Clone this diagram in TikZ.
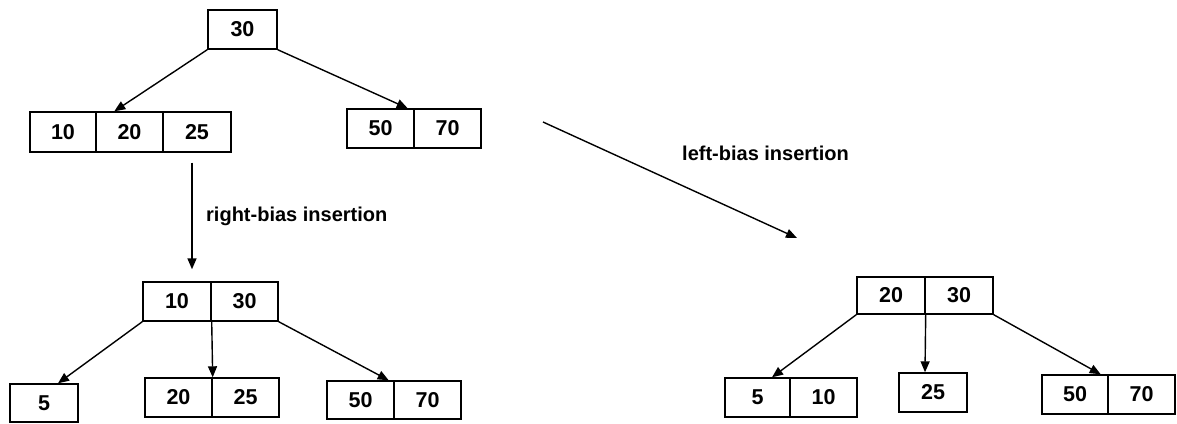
\documentclass[tikz,border=0pt]{standalone}
\usepackage{fontspec}
\setmainfont{Liberation Sans}
\usetikzlibrary{arrows.meta,calc}
\begin{document}
\begin{tikzpicture}[x=1pt,y=-1pt,
  cell/.style={draw,line width=1.4pt,fill=white,inner sep=0pt,font=\fontsize{21.5}{24}\selectfont\bfseries},
  link/.style={line width=1.4pt,-{Triangle[length=11pt,width=9pt]}},
  lbl/.style={font=\fontsize{20}{24}\selectfont\bfseries,anchor=west,inner sep=0pt}]
\useasboundingbox (0,0) rectangle (1177,423);
% top tree
\node[cell,minimum width=69pt,minimum height=39pt] (r30) at (242.5,29.5) {30};
\node[cell,minimum width=66pt,minimum height=40pt] (a10) at (63,132) {10};
\node[cell,minimum width=67pt,minimum height=40pt] (a20) at (129.5,132) {20};
\node[cell,minimum width=68pt,minimum height=40pt] (a25) at (197,132) {25};
\node[cell,minimum width=67pt,minimum height=39pt] (a50) at (380.5,128.5) {50};
\node[cell,minimum width=67pt,minimum height=39pt] (a70) at (447.5,128.5) {70};
\draw[link] (r30.south west) -- ([xshift=19pt]a20.north west);
\draw[link] (r30.south east) -- ([xshift=-7pt]a50.north east);
% right-bias result
\node[cell,minimum width=68pt,minimum height=39pt] (b10) at (177,301.5) {10};
\node[cell,minimum width=67pt,minimum height=39pt] (b30) at (244.5,301.5) {30};
\node[cell,minimum width=68pt,minimum height=38pt] (c5) at (44,403) {5};
\node[cell,minimum width=67pt,minimum height=39pt] (c20) at (178.5,397.5) {20};
\node[cell,minimum width=67pt,minimum height=39pt] (c25) at (245.5,397.5) {25};
\node[cell,minimum width=67pt,minimum height=38pt] (c50) at (360.5,400) {50};
\node[cell,minimum width=67pt,minimum height=38pt] (c70) at (427.5,400) {70};
\coordinate (v1) at ([xshift=-5pt,yshift=-10pt]a25.south);
\coordinate (v2) at ([xshift=15pt,yshift=12pt]b10.north);
\draw[link] (v1) -- (v2);
\node[lbl] (rb) at (206,216) {right-bias insertion};
\draw[link] (b10.south west) -- ([xshift=14pt]c5.north);
\draw[link] (b10.south east) -- (c20.north east);
\draw[link] (b30.south east) -- ([xshift=-6pt]c50.north east);
% left-bias
\coordinate (l1) at (543,122);
\coordinate (l2) at (797,238);
\draw[link] (l1) -- (l2);
\node[lbl] (lb) at (682,153) {left-bias insertion};
\node[cell,minimum width=68pt,minimum height=37pt] (d20) at (891,295.5) {20};
\node[cell,minimum width=68pt,minimum height=37pt] (d30) at (959,295.5) {30};
\node[cell,minimum width=65pt,minimum height=39pt] (e5) at (757.5,397.5) {5};
\node[cell,minimum width=67pt,minimum height=39pt] (e10) at (823.5,397.5) {10};
\node[cell,minimum width=68pt,minimum height=39pt] (e25) at (933,392.5) {25};
\node[cell,minimum width=66pt,minimum height=39pt] (e50) at (1075,394.5) {50};
\node[cell,minimum width=67pt,minimum height=39pt] (e70) at (1141.5,394.5) {70};
\draw[link] (d20.south west) -- ([xshift=14.5pt]e5.north);
\draw[link] (d20.south east) -- ([xshift=-8pt]e25.north);
\draw[link] (d30.south east) -- ([xshift=-8pt]e50.north east);
\end{tikzpicture}
\end{document}
